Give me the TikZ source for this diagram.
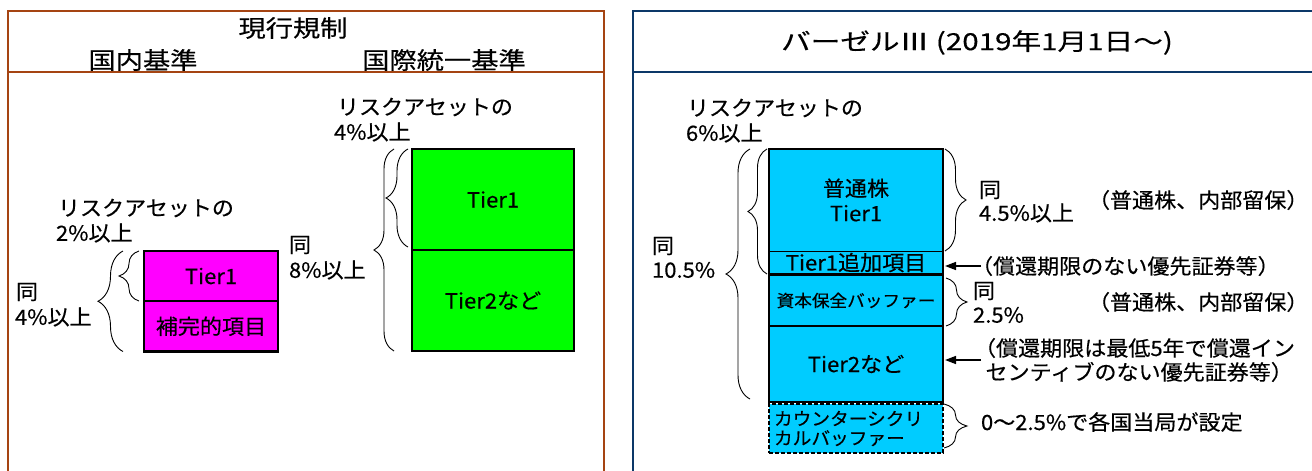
\documentclass[tikz,border=0pt]{standalone}
\usepackage{fontspec}
\setmainfont{Noto Sans CJK JP}[FakeBold=0.4]
\usetikzlibrary{arrows.meta,decorations.pathreplacing}
\definecolor{framebrown}{RGB}{165,68,18}
\definecolor{framenavy}{RGB}{12,56,104}
\definecolor{tiermag}{RGB}{255,0,255}
\definecolor{tiergreen}{RGB}{0,255,0}
\definecolor{tierblue}{RGB}{0,204,255}
\newcommand{\hx}[1]{\scalebox{1.16}[1]{#1}}
\newcommand{\bx}[1]{\scalebox{1.05}[1]{#1}}
\begin{document}
\begin{tikzpicture}[x=1pt,y=-1pt,
  txt/.style={inner sep=0pt, outer sep=0pt, font=\fontsize{21}{25}\selectfont},
  hdr/.style={inner sep=0pt, outer sep=0pt, font=\fontsize{23.5}{26}\selectfont},
  cell/.style={draw=black, line width=2.6pt, inner sep=0pt, outer sep=0pt, font=\fontsize{21}{25}\selectfont, align=center},
  brc/.style={decorate, decoration={brace, amplitude=#1}, line width=0.9pt},
  arr/.style={-{Triangle[length=11pt,width=8pt]}, line width=1.5pt},
  lframe/.style={draw=framebrown, line width=2pt},
  rframe/.style={draw=framenavy, line width=2pt}
]
\useasboundingbox (0,0) rectangle (1312,471);
% ---------- frames ----------
\draw[lframe] (8,490) -- (8,11) -- (604,11) -- (604,490);
\draw[lframe] (8,72) -- (604,72);
\draw[rframe] (633,490) -- (633,11) -- (1330,11);
\draw[rframe] (633,72) -- (1330,72);
% ---------- left headers ----------
\node[hdr] (h0) at (293,28) {\hx{現行規制}};
\node[hdr] (h1) at (143,60) {\hx{国内基準}};
\node[hdr] (h2) at (444,60) {\hx{国際統一基準}};
% ---------- right title ----------
\node[hdr] (h3) at (977,42.5) {\scalebox{1.26}[1]{バーゼルⅢ (2019年1月1日～)}};
% ---------- left: domestic (magenta) ----------
\node[cell, fill=tiermag, minimum width=134pt, minimum height=50pt] (m1) at (211,276) {\bx{Tier1}};
\node[cell, fill=tiermag, minimum width=134pt, minimum height=50.5pt] (m2) at (211,326.25) {\bx{補完的項目}};
\node[txt, anchor=west] (ra2) at (58,208) {\bx{リスクアセットの}};
\node[txt, anchor=west] (ra2b) at (56,233) {\bx{2\%以上}};
\node[txt, anchor=west] (d4a) at (16,292) {\bx{同}};
\node[txt, anchor=west] (d4b) at (15,317) {\bx{4\%以上}};
\draw[brc=20pt] ([xshift=-5pt]m1.south west) -- ([xshift=-5pt]m1.north west);
\draw[brc=25pt] ([xshift=-21pt]m2.south west) -- ([xshift=-21pt]m1.north west);
% ---------- left: international (green) ----------
\node[cell, fill=tiergreen, minimum width=162pt, minimum height=101pt] (g1) at (493,199.5) {\bx{Tier1}};
\node[cell, fill=tiergreen, minimum width=162pt, minimum height=101pt] (g2) at (493,300.5) {\bx{Tier2など}};
\node[txt, anchor=west] (ra1) at (337,107) {\bx{リスクアセットの}};
\node[txt, anchor=west] (ra1b) at (334,132) {\bx{4\%以上}};
\node[txt, anchor=west] (d8a) at (289,245) {\bx{同}};
\node[txt, anchor=west] (d8b) at (289,270) {\bx{8\%以上}};
\draw[brc=22pt] ([xshift=-4pt,yshift=3pt]g1.south west) -- ([xshift=-4pt]g1.north west);
\draw[brc=20pt] ([xshift=-18pt]g2.south west) -- ([xshift=-18pt]g1.north west);
% ---------- right: Basel III (blue) ----------
\node[fill=tierblue, inner sep=0pt, outer sep=0pt, minimum width=174pt, minimum height=102pt, align=center, font=\fontsize{21}{25}\selectfont] (b1) at (856,200) {\bx{普通株}\\\bx{Tier1}};
\node[fill=tierblue, inner sep=0pt, outer sep=0pt, minimum width=174pt, minimum height=23pt, font=\fontsize{21}{25}\selectfont] (b2) at (856,262.5) {\bx{Tier1追加項目}};
\draw[line width=2.6pt] (b1.north west) rectangle (b2.south east);
\draw[line width=1pt] (b1.south west) -- (b1.south east);
\node[cell, fill=tierblue, minimum width=174pt, minimum height=51pt, font=\fontsize{16.8}{20}\selectfont] (b3) at (856,300.5) {\bx{資本保全バッファー}};
\node[cell, fill=tierblue, minimum width=174pt, minimum height=76pt] (b4) at (856,364) {\bx{Tier2など}};
\node[cell, fill=tierblue, dash pattern=on 4pt off 2pt, minimum width=174pt, minimum height=49pt, text width=164pt, align=left, font=\fontsize{17.8}{19.5}\selectfont] (b5) at (856,428.5) {\bx{カウンターシクリ}\\\bx{カルバッファー}};
\node[txt, anchor=west] (ra3) at (687,108) {\bx{リスクアセットの}};
\node[txt, anchor=west] (ra3b) at (686,133) {\bx{6\%以上}};
\node[txt, anchor=west] (d10a) at (652,246) {\bx{同}};
\node[txt, anchor=west] (d10b) at (652,270) {\bx{10.5\%}};
\draw[brc=19pt] ([xshift=-2pt]b2.south west) -- ([xshift=-2pt]b1.north west);
\draw[brc=24pt] ([xshift=-19pt,yshift=3pt]b4.south west) -- ([xshift=-19pt]b1.north west);
\draw[brc=21pt] ([xshift=2pt]b1.north east) -- ([xshift=2pt]b1.south east);
\draw[brc=21pt] ([xshift=3pt,yshift=-3pt]b3.north east) -- ([xshift=3pt]b3.south east);
\draw[brc=23pt] ([xshift=1pt]b5.north east) -- ([xshift=1pt,yshift=5pt]b5.south east);
\node[txt, anchor=west] (d45a) at (979,190) {\bx{同}};
\node[txt, anchor=west] (d45b) at (979,213) {\bx{4.5\%以上}};
\node[txt, anchor=west] (n1) at (1088,200) {\bx{（普通株、内部留保）}};
\node[txt, anchor=west] (n2) at (971,266) {\bx{（償還期限のない優先証券等）}};
\node[txt, anchor=west] (d25a) at (973,291) {\bx{同}};
\node[txt, anchor=west] (d25b) at (973,315) {\bx{2.5\%}};
\node[txt, anchor=west] (n3) at (1088,302) {\bx{（普通株、内部留保）}};
\node[txt, anchor=west, align=left, font=\fontsize{21}{24}\selectfont] (n4) at (974,360) {\bx{（償還期限は最低5年で償還イン}\\\bx{\hspace{11pt}センティブのない優先証券等）}};
\node[txt, anchor=west] (n5) at (981,422) {\bx{0～2.5\%で各国当局が設定}};
\draw[arr] ([xshift=10pt]n2.west) -- ([xshift=2pt]n2.west -| b2.east);
\draw[arr] ([xshift=7pt]n4.west) -- ([xshift=2pt]n4.west -| b4.east);
\end{tikzpicture}
\end{document}
